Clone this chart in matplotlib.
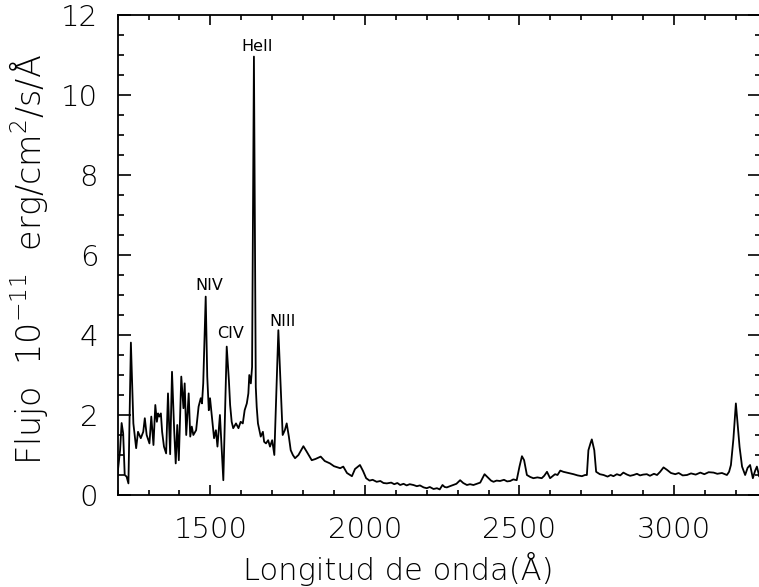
import matplotlib.pyplot as plt
from matplotlib.ticker import MultipleLocator

plt.rcParams['font.family'] = ['DejaVu Sans']
plt.rcParams['font.weight'] = 'light'
plt.rcParams['axes.labelweight'] = 'light'
plt.rcParams['mathtext.default'] = 'regular'

# spectrum (Angstrom, 1e-11 erg/cm2/s/A)
wave = [1200, 1208, 1213, 1218, 1223, 1229, 1235, 1243, 1251, 1260,
        1266, 1275, 1283, 1288, 1294, 1303, 1309, 1316, 1322, 1327,
        1331, 1335, 1340, 1344, 1350, 1357, 1363, 1370, 1376, 1383,
        1388, 1393, 1398, 1406, 1413, 1417, 1422, 1430, 1435, 1440,
        1445, 1454, 1462, 1469, 1473, 1477, 1485, 1490, 1495, 1499,
        1505, 1512, 1518, 1523, 1531, 1537, 1542, 1548, 1553, 1560,
        1564, 1569, 1574, 1583, 1591, 1598, 1605, 1611, 1618, 1623,
        1626, 1631, 1635, 1641, 1647, 1650, 1654, 1663, 1670, 1674,
        1680, 1687, 1693, 1700, 1707, 1713, 1720, 1728, 1734, 1741,
        1747, 1754, 1760, 1767, 1774, 1785, 1801, 1812, 1828, 1840,
        1857, 1870, 1887, 1900, 1920, 1930, 1942, 1952, 1958, 1968,
        1984, 1994, 2004, 2015, 2025, 2038, 2050, 2060, 2071, 2085,
        2095, 2105, 2114, 2125, 2135, 2145, 2157, 2168, 2178, 2190,
        2200, 2210, 2222, 2233, 2242, 2251, 2258, 2265, 2275, 2286,
        2296, 2308, 2318, 2330, 2340, 2351, 2362, 2373, 2387, 2400,
        2408, 2416, 2426, 2437, 2450, 2460, 2470, 2480, 2491, 2500,
        2508, 2515, 2524, 2535, 2545, 2558, 2572, 2580, 2589, 2599,
        2607, 2615, 2623, 2632, 2642, 2653, 2664, 2675, 2688, 2702,
        2712, 2718, 2723, 2730, 2734, 2738, 2742, 2748, 2760, 2772,
        2785, 2795, 2804, 2815, 2826, 2836, 2848, 2858, 2869, 2880,
        2890, 2900, 2912, 2922, 2935, 2945, 2955, 2966, 2977, 2990,
        3004, 3015, 3028, 3042, 3055, 3070, 3085, 3098, 3112, 3128,
        3140, 3155, 3171, 3178, 3184, 3192, 3200, 3205, 3212, 3220,
        3230, 3238, 3246, 3255, 3262, 3268, 3276, 3280]
flux = [0.54, 1.12, 1.80, 1.54, 0.50, 0.46, 0.29, 3.81, 1.79, 1.17,
        1.58, 1.42, 1.58, 1.92, 1.50, 1.29, 1.96, 1.25, 2.25, 1.83,
        2.04, 1.96, 2.04, 1.58, 1.21, 1.04, 2.54, 1.02, 3.08, 1.62,
        0.79, 1.75, 0.87, 2.96, 2.17, 2.79, 1.50, 2.54, 1.46, 1.71,
        1.50, 1.62, 2.21, 2.42, 2.29, 2.79, 4.96, 2.96, 2.12, 2.42,
        1.96, 1.42, 1.62, 1.21, 2.00, 1.12, 0.37, 2.21, 3.71, 2.87,
        2.25, 1.83, 1.67, 1.79, 1.67, 1.83, 1.79, 2.12, 2.29, 2.54,
        3.00, 2.79, 3.20, 10.96, 2.70, 2.20, 1.79, 1.46, 1.58, 1.33,
        1.29, 1.37, 1.21, 1.37, 1.00, 2.46, 4.12, 2.62, 1.50, 1.62,
        1.79, 1.46, 1.12, 1.00, 0.92, 1.00, 1.22, 1.08, 0.87, 0.90,
        0.96, 0.85, 0.79, 0.72, 0.67, 0.71, 0.55, 0.50, 0.47, 0.65,
        0.75, 0.60, 0.42, 0.36, 0.38, 0.33, 0.35, 0.30, 0.29, 0.31,
        0.27, 0.30, 0.25, 0.28, 0.24, 0.27, 0.25, 0.22, 0.24, 0.19,
        0.17, 0.20, 0.15, 0.17, 0.14, 0.25, 0.20, 0.19, 0.22, 0.25,
        0.28, 0.37, 0.30, 0.25, 0.27, 0.25, 0.28, 0.31, 0.52, 0.42,
        0.36, 0.33, 0.36, 0.35, 0.38, 0.34, 0.35, 0.39, 0.37, 0.71,
        0.97, 0.87, 0.50, 0.45, 0.42, 0.44, 0.42, 0.48, 0.58, 0.42,
        0.47, 0.52, 0.50, 0.61, 0.58, 0.56, 0.54, 0.52, 0.49, 0.47,
        0.50, 0.50, 1.12, 1.30, 1.39, 1.25, 1.12, 0.58, 0.52, 0.50,
        0.46, 0.50, 0.47, 0.52, 0.49, 0.56, 0.51, 0.48, 0.50, 0.53,
        0.49, 0.51, 0.52, 0.48, 0.53, 0.50, 0.58, 0.69, 0.63, 0.55,
        0.52, 0.55, 0.49, 0.50, 0.54, 0.51, 0.56, 0.52, 0.57, 0.56,
        0.53, 0.55, 0.50, 0.58, 0.75, 1.40, 2.29, 1.83, 1.20, 0.71,
        0.50, 0.68, 0.75, 0.42, 0.60, 0.71, 0.46, 0.55]

# line identifications: (text, wavelength, flux)
line_names = ['HeII', 'NIV', 'CIV', 'NIII']
line_wave = [1651, 1496, 1566, 1734]
line_flux = [11.22, 5.25, 4.05, 4.33]

fig = plt.figure(figsize=(7.59, 5.87), dpi=100)
ax = fig.add_axes([117.6 / 759, 92 / 587, 643 / 759, 480 / 587])

ax.plot(wave, flux, color='black', lw=1.3)

for name, w, f in zip(line_names, line_wave, line_flux):
    ax.text(w, f, name, ha='center', va='center', fontsize=11.5,
            fontweight='normal')

ax.set_xlim(1200, 3280)
ax.set_ylim(0, 12)
ax.xaxis.set_major_locator(MultipleLocator(500))
ax.xaxis.set_minor_locator(MultipleLocator(100))
ax.yaxis.set_major_locator(MultipleLocator(2))
ax.yaxis.set_minor_locator(MultipleLocator(0.5))
ax.tick_params(axis='both', which='both', direction='in', top=True, right=True,
               labelsize=21, width=1.2, colors='black')
ax.tick_params(axis='x', which='major', length=7, pad=15)
ax.tick_params(axis='x', which='minor', length=3.5)
ax.tick_params(axis='y', which='major', length=9.2, pad=14)
ax.tick_params(axis='y', which='minor', length=4.6)
for sp in ax.spines.values():
    sp.set_linewidth(1.3)

ax.set_xlabel('Longitud de onda(Å)', fontsize=22)
ax.xaxis.set_label_coords(0.436, -0.118)
ax.set_ylabel('Flujo  10$^{-11}$  erg/cm$^{2}$/s/Å', fontsize=24)
ax.yaxis.set_label_coords(-0.105, 0.49)

plt.savefig('out.png', dpi=100)
